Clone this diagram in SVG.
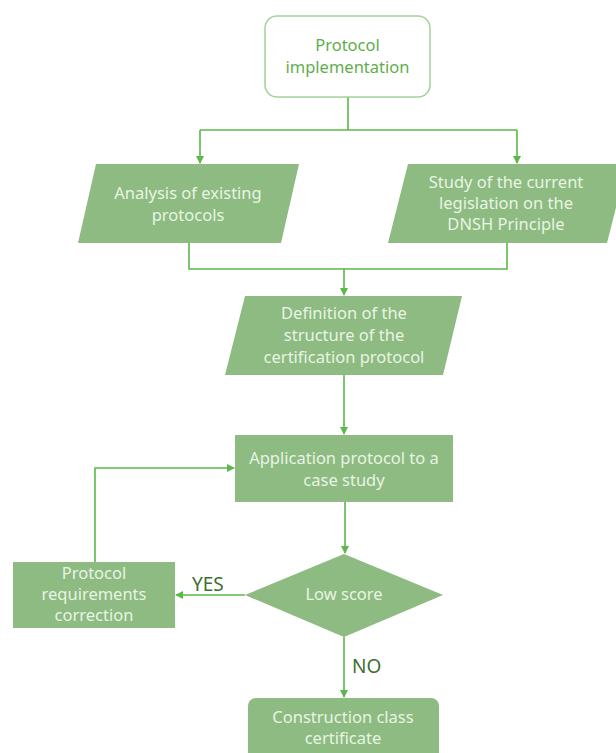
<svg xmlns="http://www.w3.org/2000/svg" width="616" height="753" viewBox="0 0 616 753">
<style>
.shape{fill:#8dbb81;}
.lbl{font-family:"Noto Sans","Open Sans",sans-serif;font-size:16.5px;fill:#e9f4e4;text-anchor:middle;}
.title{font-family:"Noto Sans","Open Sans",sans-serif;font-size:16.5px;fill:#5fae4c;text-anchor:middle;}
.yn{font-family:"Noto Sans","Open Sans",sans-serif;font-size:19px;fill:#3c6f31;}
.conn{fill:none;stroke:#5cb84a;stroke-width:1.6;}
</style>
<defs>
<marker id="arr" viewBox="0 0 8 8" refX="7" refY="4" markerWidth="5" markerHeight="5" orient="auto">
<path d="M0,0 L8,4 L0,8 z" fill="#5cb84a"/>
</marker>
</defs>
<rect width="616" height="753" fill="#ffffff"/>
<g id="connectors">
<path class="conn" d="M348,97 V130"/>
<path class="conn" d="M200,130 H517"/>
<path class="conn" d="M200,130 V163" marker-end="url(#arr)"/>
<path class="conn" d="M517,130 V163" marker-end="url(#arr)"/>
<path class="conn" d="M189,243 V269 H507 V243"/>
<path class="conn" d="M344,269 V295" marker-end="url(#arr)"/>
<path class="conn" d="M344,375 V434" marker-end="url(#arr)"/>
<path class="conn" d="M345,502 V553" marker-end="url(#arr)"/>
<path class="conn" d="M245,595 H176" marker-end="url(#arr)"/>
<path class="conn" d="M95,562 V468 H234" marker-end="url(#arr)"/>
<path class="conn" d="M344,637 V697" marker-end="url(#arr)"/>
</g>
<g id="n-start">
<rect x="265" y="16" width="165" height="81" rx="12" fill="#ffffff" stroke="#a3d296" stroke-width="1.5"/>
<text class="title" x="347.5" y="51">Protocol</text>
<text class="title" x="347.5" y="73">implementation</text>
</g>
<g id="n-analysis">
<polygon class="shape" points="96,164 299,164 281,243 78,243"/>
<text class="lbl" x="188" y="199">Analysis of existing</text>
<text class="lbl" x="188" y="221">protocols</text>
</g>
<g id="n-study">
<polygon class="shape" points="408,164 627,164 607,243 388,243"/>
<text class="lbl" x="506" y="188">Study of the current</text>
<text class="lbl" x="506" y="209">legislation on the</text>
<text class="lbl" x="506" y="230">DNSH Principle</text>
</g>
<g id="n-definition">
<polygon class="shape" points="245,296 462,296 443,375 225,375"/>
<text class="lbl" x="344" y="319">Definition of the</text>
<text class="lbl" x="344" y="341">structure of the</text>
<text class="lbl" x="344" y="363">certification protocol</text>
</g>
<g id="n-application">
<rect class="shape" x="235" y="435" width="218" height="67"/>
<text class="lbl" x="344" y="464">Application protocol to a</text>
<text class="lbl" x="344" y="486">case study</text>
</g>
<g id="n-decision">
<polygon class="shape" points="344,554 443,595 344,637 245,595"/>
<text class="lbl" x="344" y="600">Low score</text>
</g>
<g id="n-correction">
<rect class="shape" x="13" y="562" width="162" height="66"/>
<text class="lbl" x="94" y="579">Protocol</text>
<text class="lbl" x="94" y="600">requirements</text>
<text class="lbl" x="94" y="621">correction</text>
</g>
<g id="n-certificate">
<rect class="shape" x="248" y="698" width="191" height="70" rx="8"/>
<text class="lbl" x="343" y="723">Construction class</text>
<text class="lbl" x="343" y="744">certificate</text>
</g>
<g id="labels">
<text class="yn" x="192" y="591">YES</text>
<text class="yn" x="352" y="673">NO</text>
</g>
</svg>
